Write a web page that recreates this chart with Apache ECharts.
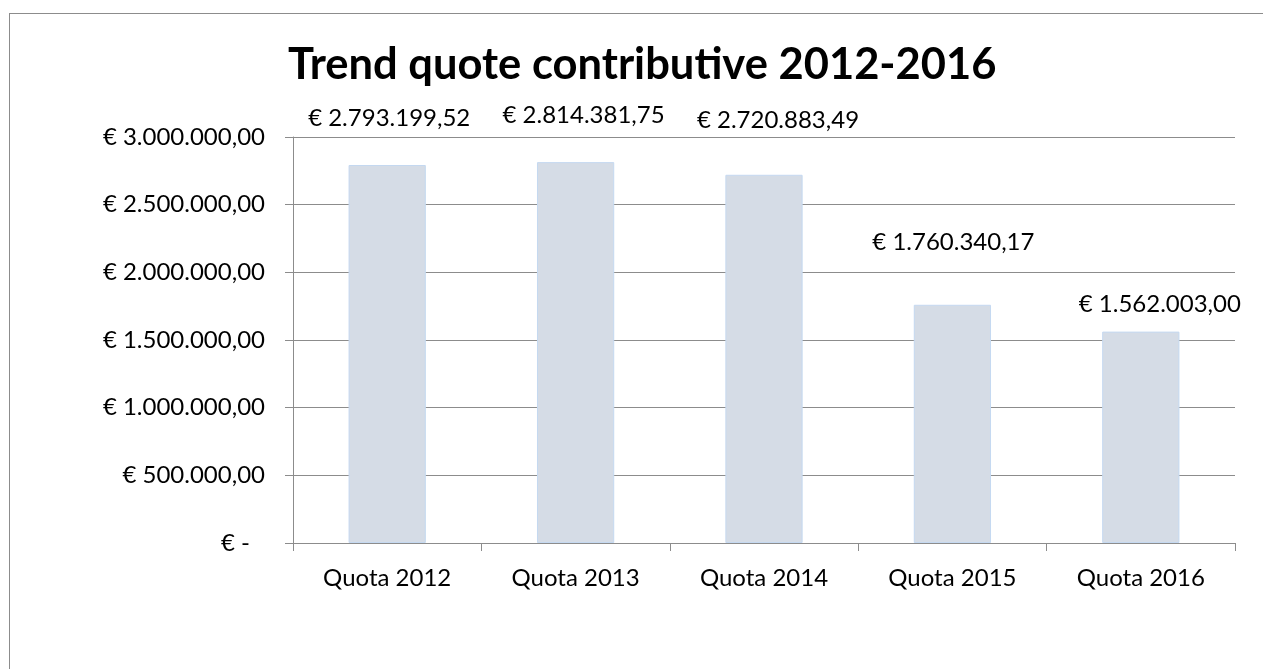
<!DOCTYPE html>
<html>
<head>
<meta charset="utf-8">
<script src="https://cdn.jsdelivr.net/npm/echarts@6/dist/echarts.min.js"></script>
<style>
  html, body { margin: 0; padding: 0; background: #fff; }
  #frame {
    position: absolute; left: 9px; top: 13px; width: 1300px; height: 700px;
    border: 1px solid #8c8c8c; box-sizing: border-box;
  }
  #chart { position: absolute; left: 0; top: 0; width: 1263px; height: 669px; }
</style>
</head>
<body>
<div id="frame"></div>
<div id="chart"></div>
<script>
const categories = ['Quota 2012', 'Quota 2013', 'Quota 2014', 'Quota 2015', 'Quota 2016'];
const quote = [2793199.52, 2814381.75, 2720883.49, 1760340.17, 1562003.00];
const yTicks = [0, 500000, 1000000, 1500000, 2000000, 2500000, 3000000];

// euro formatting, italian style
function euro(v) {
    if (v === 0) return '€ -';
    let parts = v.toFixed(2).split('.');
    let intPart = parts[0].replace(/\B(?=(\d{3})+(?!\d))/g, '.');
    return '€ ' + intPart + ',' + parts[1];
}

// label nudges as placed in the original (pixels)
const nudge = [[2, -35], [8, -35], [14, -43], [1, -51], [19, -15]];

let chart = echarts.init(document.getElementById('chart'));
let option = {
    backgroundColor: 'transparent',
    animation: false,
    title: {
        text: 'Trend quote contributive 2012-2016',
        left: 283,
        top: 38,
        textStyle: {
            fontFamily: 'Lato',
            fontWeight: 'bold',
            fontSize: 43.5,
            color: '#000'
        }
    },
    grid: { left: 293, right: 28, top: 137, bottom: 126 },
    xAxis: {
        type: 'category',
        data: categories,
        axisLine: { lineStyle: { color: '#8c8c8c', width: 1 } },
        axisTick: { show: true, length: 8, lineStyle: { color: '#8c8c8c' } },
        axisLabel: { fontFamily: 'Lato', fontSize: 24, color: '#000', margin: 23 }
    },
    yAxis: {
        type: 'value',
        min: yTicks[0],
        max: yTicks[yTicks.length - 1],
        interval: yTicks[1] - yTicks[0],
        axisLine: { show: true, lineStyle: { color: '#8c8c8c', width: 1 } },
        axisTick: { show: true, length: 8, lineStyle: { color: '#8c8c8c' } },
        splitLine: { lineStyle: { color: '#8c8c8c', width: 1 } },
        axisLabel: {
            fontFamily: 'Lato', fontSize: 24, color: '#000', margin: 28,
            formatter: function (v) {
                return v === 0 ? '{z|' + euro(v) + '}' : euro(v);
            },
            rich: {
                z: { fontFamily: 'Lato', fontSize: 24, color: '#000', padding: [0, 15, 0, 0] }
            }
        }
    },
    series: [
        {
            type: 'bar',
            barWidth: '41%',
            data: quote.map(function (v, i) {
                return {
                    value: v,
                    label: { offset: nudge[i] }
                };
            }),
            itemStyle: { color: '#d5dce6', borderColor: '#c5d9f1', borderWidth: 1 },
            label: {
                show: true,
                position: 'top',
                distance: 0,
                fontFamily: 'Lato',
                fontSize: 24,
                color: '#000',
                formatter: function (p) { return euro(p.value); }
            }
        }
    ]
};
chart.setOption(option);
</script>
</body>
</html>
